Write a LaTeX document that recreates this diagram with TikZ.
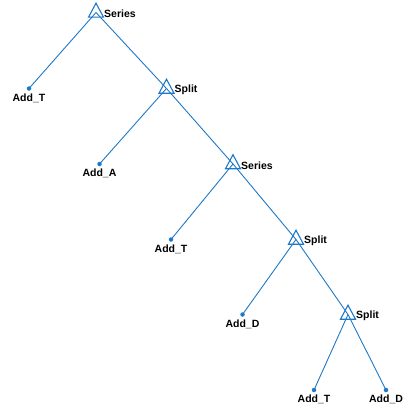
\documentclass[tikz,border=0pt]{standalone}
\usepackage{fontspec}
\setmainfont{Liberation Sans}
\begin{document}
\begin{tikzpicture}[x=1pt,y=-1pt,
  treeline/.style={draw=treeblue,line width=0.9pt},
  leafdot/.style={circle,fill=treeblue,inner sep=0pt,minimum size=4.5pt},
  tri/.style={draw=treeblue,line width=1.1pt,line join=miter},
  lab/.style={font=\fontsize{10.5}{12}\selectfont\bfseries,text=black,inner sep=0pt}]
\definecolor{treeblue}{RGB}{30,120,200}
\useasboundingbox (0,0) rectangle (403,412);
% internal nodes
\coordinate (s1) at (96,12.5);
\coordinate (p1) at (166.5,88.5);
\coordinate (s2) at (233,164);
\coordinate (p2) at (296,239.5);
\coordinate (p3) at (348,314.5);
% leaves
\node[leafdot] (l1) at (29,88.5) {};
\node[leafdot] (l2) at (99.5,164) {};
\node[leafdot] (l3) at (171,239.5) {};
\node[leafdot] (l4) at (242.5,314.5) {};
\node[leafdot] (l5) at (314,390) {};
\node[leafdot] (l6) at (386,390) {};
% edges
\draw[treeline] (s1) -- (l1.center);
\draw[treeline] (s1) -- (p1);
\draw[treeline] (p1) -- (l2.center);
\draw[treeline] (p1) -- (s2);
\draw[treeline] (s2) -- (l3.center);
\draw[treeline] (s2) -- (p2);
\draw[treeline] (p2) -- (l4.center);
\draw[treeline] (p2) -- (p3);
\draw[treeline] (p3) -- (l5.center);
\draw[treeline] (p3) -- (l6.center);
% triangles
\foreach \n in {s1,p1,s2,p2,p3}{
  \draw[tri] ([yshift=9.3pt]\n) -- ([xshift=-7.5pt,yshift=-4.7pt]\n) -- ([xshift=7.5pt,yshift=-4.7pt]\n) -- cycle;
}
% internal labels
\node[lab,anchor=west] (ts1) at ([xshift=8pt,yshift=-1.7pt]s1) {Series};
\node[lab,anchor=west] (tp1) at ([xshift=8pt,yshift=-1.7pt]p1) {Split};
\node[lab,anchor=west] (ts2) at ([xshift=8pt,yshift=-1.7pt]s2) {Series};
\node[lab,anchor=west] (tp2) at ([xshift=8pt,yshift=-1.7pt]p2) {Split};
\node[lab,anchor=west] (tp3) at ([xshift=8pt,yshift=-1.7pt]p3) {Split};
% leaf labels
\node[lab] (tl1) at ([yshift=-9.5pt]l1.center) {Add\_T};
\node[lab] (tl2) at ([yshift=-9.5pt]l2.center) {Add\_A};
\node[lab] (tl3) at ([yshift=-9.5pt]l3.center) {Add\_T};
\node[lab] (tl4) at ([yshift=-9.5pt]l4.center) {Add\_D};
\node[lab] (tl5) at ([yshift=-9.5pt]l5.center) {Add\_T};
\node[lab] (tl6) at ([yshift=-9.5pt]l6.center) {Add\_D};
\end{tikzpicture}
\end{document}
